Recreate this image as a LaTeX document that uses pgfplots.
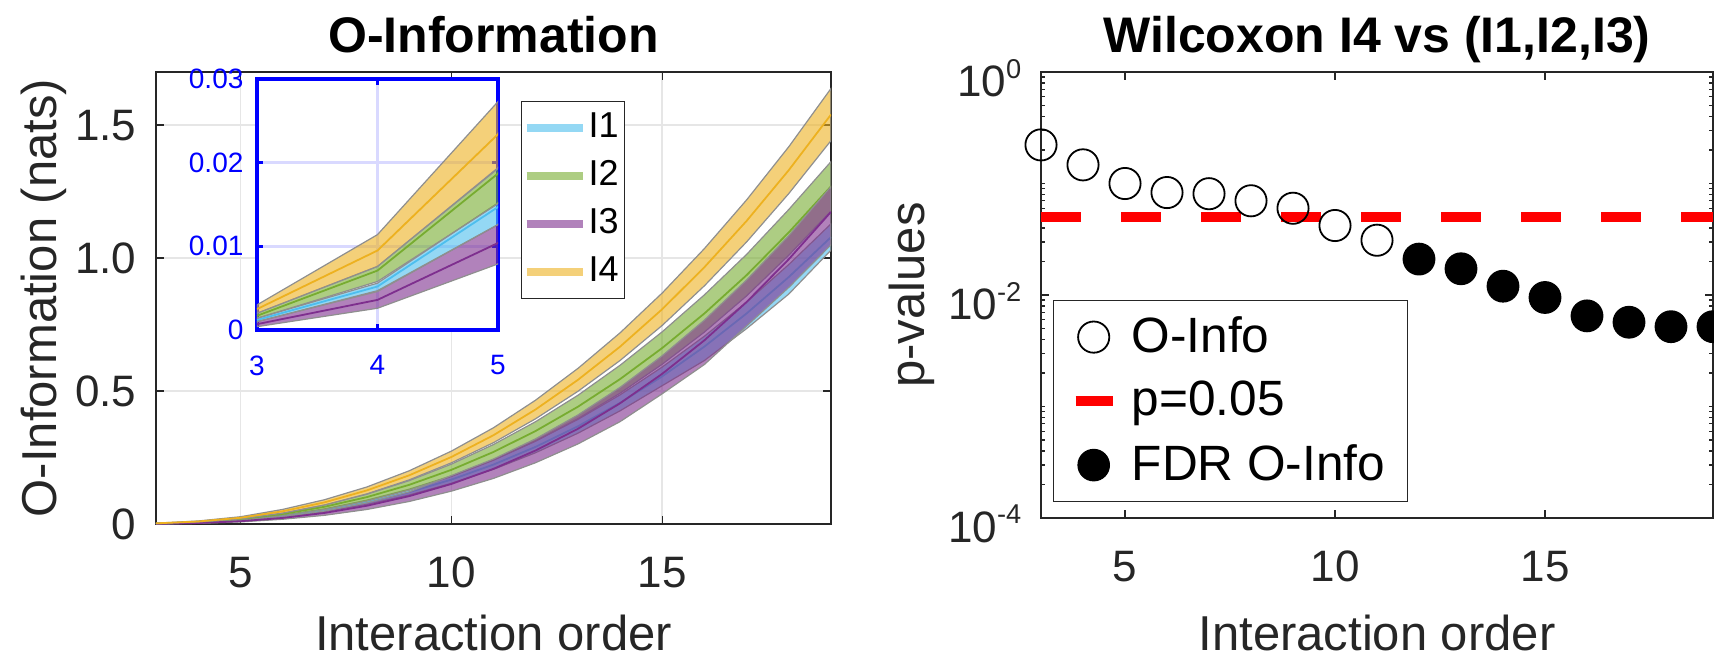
\documentclass[border=0pt]{standalone}
\usepackage{fontspec}
\setmainfont{Liberation Sans}
\usepackage{pgfplots}
\usepackage{pgfplotstable}
\pgfplotsset{compat=1.18}

\definecolor{cI1}{HTML}{4DBEEE}
\definecolor{cI2}{HTML}{77AC30}
\definecolor{cI3}{HTML}{7E2F8E}
\definecolor{cI4}{HTML}{EDB120}
\definecolor{axc}{HTML}{262626}
\definecolor{edgec}{HTML}{8F8F8F}
\definecolor{gridc}{HTML}{E6E6E6}

\newcommand\fs[1]{\fontsize{#1}{#1}\selectfont}
\newcommand\tp[1]{10\raisebox{4.6pt}{\fs{6.8pt}#1}}

% bands: upper edge from 3 to 19, then lower edge back to 3
\pgfplotstableread{
x y
3 0.0014
4 0.0056
5 0.0152
6 0.0330
7 0.0571
8 0.0898
9 0.1309
10 0.1809
11 0.2416
12 0.3123
13 0.3934
14 0.4857
15 0.5904
16 0.7064
17 0.8350
18 0.9760
19 1.1290
19 1.0300
18 0.8650
17 0.7350
16 0.6150
15 0.5204
14 0.4257
13 0.3414
12 0.2683
11 0.2056
10 0.1529
9 0.1089
8 0.0738
7 0.0471
6 0.0270
5 0.0126
4 0.0047
3 0.0010
}\bandA
\pgfplotstableread{
x y
3 0.0012
4 0.0052
5 0.0147
6 0.0300
7 0.0521
8 0.0818
9 0.1199
10 0.1669
11 0.2236
12 0.2903
13 0.3674
14 0.4557
15 0.5554
16 0.6674
17 0.7920
18 0.9290
19 1.0790
}\meanA

\pgfplotstableread{
x y
3 0.0020
4 0.0076
5 0.0193
6 0.0408
7 0.0720
8 0.1120
9 0.1630
10 0.2250
11 0.2990
12 0.3850
13 0.4840
14 0.5970
15 0.7230
16 0.8620
17 1.0140
18 1.1830
19 1.3630
19 1.1770
18 1.0110
17 0.8580
16 0.7220
15 0.6010
14 0.4920
13 0.3960
12 0.3120
11 0.2400
10 0.1790
9 0.1270
8 0.0860
7 0.0540
6 0.0308
5 0.0151
4 0.0058
3 0.0014
}\bandB
\pgfplotstableread{
x y
3 0.0017
4 0.0071
5 0.0187
6 0.0378
7 0.0650
8 0.1012
9 0.1472
10 0.2036
11 0.2710
12 0.3500
13 0.4410
14 0.5450
15 0.6620
16 0.7920
17 0.9360
18 1.0970
19 1.2700
}\meanB

\pgfplotstableread{
x y
3 0.0010
4 0.0046
5 0.0126
6 0.0268
7 0.0488
8 0.0797
9 0.1207
10 0.1820
11 0.2445
12 0.3207
13 0.4100
14 0.5140
15 0.6330
16 0.7670
17 0.9180
18 1.0850
19 1.2690
19 1.0500
18 0.8900
17 0.7450
16 0.6000
15 0.4900
14 0.3850
13 0.3010
12 0.2307
11 0.1715
10 0.1235
9 0.0847
8 0.0547
7 0.0328
6 0.0178
5 0.0079
4 0.0026
3 0.0004
}\bandC
\pgfplotstableread{
x y
3 0.0007
4 0.0036
5 0.0104
6 0.0228
7 0.0418
8 0.0687
9 0.1047
10 0.1505
11 0.2075
12 0.2767
13 0.3580
14 0.4540
15 0.5650
16 0.6910
17 0.8350
18 0.9960
19 1.1740
}\meanC

\pgfplotstableread{
x y
3 0.0030
4 0.0114
5 0.0273
6 0.0548
7 0.0916
8 0.1394
9 0.2000
10 0.2740
11 0.3620
12 0.4660
13 0.5850
14 0.7190
15 0.8690
16 1.0360
17 1.2190
18 1.4190
19 1.6380
19 1.4420
18 1.2430
17 1.0610
16 0.8960
15 0.7470
14 0.6150
13 0.4990
12 0.3960
11 0.3060
10 0.2300
9 0.1660
8 0.1134
7 0.0716
6 0.0408
5 0.0194
4 0.0076
3 0.0020
}\bandD
\pgfplotstableread{
x y
3 0.0025
4 0.0095
5 0.0234
6 0.0478
7 0.0816
8 0.1264
9 0.1830
10 0.2520
11 0.3340
12 0.4310
13 0.5420
14 0.6670
15 0.8080
16 0.9660
17 1.1400
18 1.3310
19 1.5400
}\meanD

% Wilcoxon p-values
\pgfplotstableread{
x p
3 0.222
4 0.147
5 0.100
6 0.083
7 0.081
8 0.070
9 0.060
10 0.042
11 0.031
}\pOpen
\pgfplotstableread{
x p
12 0.0210
13 0.0172
14 0.0120
15 0.0095
16 0.0065
17 0.0057
18 0.0052
19 0.0052
}\pFdr

\pgfplotsset{
  every axis title shift=0pt,
  matax/.style={
    scale only axis, anchor=south west,
    /pgf/number format/assume math mode=true,
    axis line style={axc, line width=0.35pt},
    tick style={axc, line width=0.35pt},
    major tick length=2pt, minor tick length=1.1pt,
    tick label style={font=\fs{11pt}, text=axc, inner sep=0pt},
    xticklabel style={yshift=-8pt},
    yticklabel style={xshift=-4.75pt},
    label style={font=\fs{12.25pt}, text=axc, inner sep=0pt},
    title style={font=\bfseries\fs{12.5pt}, inner sep=0pt, anchor=base},
    xlabel style={anchor=base},
    ylabel style={anchor=center},
    xmin=3, xmax=19, xtick={5,10,15},
  },
  band/.style={fill=#1, fill opacity=0.6, draw=edgec, line width=0.3pt},
  mline/.style={#1, line width=0.45pt},
  bandleg/.style={legend image code/.code={
      \path[draw=none, fill=none] (0pt,-6pt) rectangle (16.75pt,6pt);
      \draw[line width=2pt, draw=#1, draw opacity=0.6] (1.25pt,0pt) -- (15.25pt,0pt);}},
  pleg/.style={legend image code/.code={
      \path[draw=none, fill=none] (0pt,-8pt) rectangle (19.5pt,8pt);
      \draw plot coordinates {(10pt,0pt)};}},
}

\begin{document}
\begin{tikzpicture}

% ---------- left: O-Information ----------
\begin{axis}[matax, at={(39pt,32.75pt)}, width=168.75pt, height=113pt,
  ymin=0, ymax=1.7, ytick={0,0.5,1,1.5}, yticklabels={0,0.5,1.0,1.5},
  grid=major, major grid style={gridc, line width=0.4pt},
  title={O-Information}, title style={at={(axis description cs:0.5,1.0442)}},
  xlabel={Interaction order}, xlabel style={at={(axis description cs:0.5,-0.28)}},
  ylabel={O-Information (nats)}, ylabel style={at={(axis description cs:-0.166,0.5)}},
  legend style={at={(axis description cs:0.5407,0.9358)}, anchor=north west,
    draw=axc, line width=0.35pt, fill=white, inner xsep=0pt, inner ysep=0.6pt,
    row sep=0pt, font=\fs{9pt}, nodes={inner sep=0pt, text=black}, cells={anchor=west}},
]
\addlegendimage{bandleg=cI1}\addlegendentry{I1\rule{1.5pt}{0pt}}
\addlegendimage{bandleg=cI2}\addlegendentry{I2}
\addlegendimage{bandleg=cI3}\addlegendentry{I3}
\addlegendimage{bandleg=cI4}\addlegendentry{I4}
\addplot[band=cI1] table {\bandA} -- cycle;
\addplot[mline=cI1] table {\meanA};
\addplot[band=cI2] table {\bandB} -- cycle;
\addplot[mline=cI2] table {\meanB};
\addplot[band=cI3] table {\bandC} -- cycle;
\addplot[mline=cI3] table {\meanC};
\addplot[band=cI4] table {\bandD} -- cycle;
\addplot[mline=cI4] table {\meanD};
\end{axis}

% ---------- inset ----------
\begin{axis}[scale only axis, anchor=south west, at={(64.25pt,81.25pt)},
  width=60.25pt, height=62.75pt,
  /pgf/number format/assume math mode=true,
  xmin=3, xmax=5, ymin=0, ymax=0.03,
  xtick={3,4,5}, ytick={0,0.01,0.02,0.03}, yticklabels={0,0.01,0.02,0.03},
  scaled y ticks=false,
  axis line style={blue, line width=1pt},
  tick style={blue, line width=0.6pt}, major tick length=1.5pt,
  tick label style={font=\fs{7pt}, text=blue, inner sep=0pt},
  xticklabel style={yshift=-6.2pt}, yticklabel style={xshift=-3.2pt},
  grid=major, major grid style={blue!15, line width=0.7pt},
  axis background/.style={fill=white},
]
\addplot[band=cI1] table {\bandA} -- cycle;
\addplot[mline=cI1] table {\meanA};
\addplot[band=cI2] table {\bandB} -- cycle;
\addplot[mline=cI2] table {\meanB};
\addplot[band=cI3] table {\bandC} -- cycle;
\addplot[mline=cI3] table {\meanC};
\addplot[band=cI4] table {\bandD} -- cycle;
\addplot[mline=cI4] table {\meanD};
\end{axis}

% ---------- right: Wilcoxon ----------
\begin{axis}[matax, at={(260.25pt,34.25pt)}, width=168pt, height=111.5pt,
  ymode=log, ymin=1e-4, ymax=1,
  ytick={1e-4,1e-2,1}, yticklabels={\tp{-4},\tp{-2},\tp{0}},
  minor ytick={2e-4,3e-4,4e-4,5e-4,6e-4,7e-4,8e-4,9e-4,1e-3,
    2e-3,3e-3,4e-3,5e-3,6e-3,7e-3,8e-3,9e-3,
    2e-2,3e-2,4e-2,5e-2,6e-2,7e-2,8e-2,9e-2,1e-1,
    2e-1,3e-1,4e-1,5e-1,6e-1,7e-1,8e-1,9e-1},
  yticklabel style={yshift=-1.5pt},
  title={Wilcoxon I4 vs (I1,I2,I3)}, title style={at={(axis description cs:0.5,1.0448)}},
  xlabel={Interaction order}, xlabel style={at={(axis description cs:0.5,-0.297)}},
  ylabel={p-values}, ylabel style={at={(axis description cs:-0.1927,0.5)}},
  legend style={at={(axis description cs:0.01786,0.4888)}, anchor=north west,
    draw=axc, line width=0.35pt, fill=white, inner xsep=0pt, inner ysep=1.1pt,
    row sep=0pt, font=\fs{12.4pt}, nodes={inner sep=0pt, text=black}, cells={anchor=west}},
]
\addplot[only marks, mark=o, mark size=3.9pt, mark options={draw=black, line width=0.45pt}, pleg]
  table[x=x, y=p] {\pOpen};
\addlegendentry{O-Info}
\addplot[red, line width=2.7pt, dash pattern=on 10pt off 10pt,
  legend image code/.code={\path[draw=none, fill=none] (0pt,-8pt) rectangle (19.5pt,8pt);
    \draw[solid, line width=2.4pt] (5.5pt,0pt) -- (14.75pt,0pt);}]
  coordinates {(3,0.05) (19,0.05)};
\addlegendentry{p=0.05}
\addplot[only marks, mark=*, mark size=3.9pt, mark options={draw=black, fill=black}, pleg]
  table[x=x, y=p] {\pFdr};
\addlegendentry{FDR O-Info\rule{5.5pt}{0pt}}
\end{axis}

\pgfresetboundingbox
\useasboundingbox (0pt,0pt) rectangle (428.5pt,163.75pt);
\end{tikzpicture}
\end{document}
